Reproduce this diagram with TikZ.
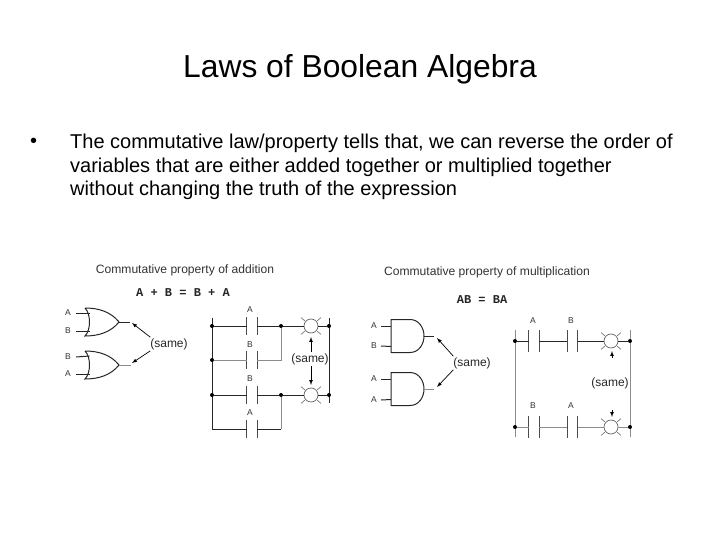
\documentclass[tikz,border=0pt]{standalone}
\usepackage{fontspec}
\setmainfont{Liberation Sans}
\newfontfamily\formulafont{Liberation Mono}
\usepackage{tikz}
\usetikzlibrary{calc}
\tikzset{
	wire/.style={line width=1pt, color=black!85},
	fadedwire/.style={line width=0.8pt, color=black!45},
	plate/.style={line width=0.9pt, color=black!70},
	contactgap/.style={minimum width=10pt, minimum height=17pt, inner sep=0pt},
	tallgap/.style={minimum width=10pt, minimum height=21pt, inner sep=0pt},
	lamp/.style={circle, draw, line width=0.7pt, color=black!60, minimum size=14pt, inner sep=0pt},
	junction/.style={circle, fill=black, minimum size=4pt, inner sep=0pt},
	smalllabel/.style={font=\fontsize{8.5}{8.5}\selectfont, color=black!80, inner sep=1pt},
	samelabel/.style={font=\fontsize{12}{12}\selectfont, color=black!85, inner sep=1pt},
	captionlabel/.style={font=\fontsize{12.1}{12.1}\selectfont, color=black!80, inner sep=0pt},
	formulalabel/.style={font=\formulafont\bfseries\fontsize{12}{12}\selectfont, color=black!85, inner sep=0pt},
	bodyline/.style={font=\fontsize{20}{20}\selectfont, anchor=west, inner sep=0pt},
	samearrow/.style={line width=0.7pt, -latex}
}
\def\orgate#1(#2,#3){
	\begin{scope}[shift={(#2,#3)}]
		\coordinate (#1a) at (4.5,-9);
		\coordinate (#1b) at (4.5,9);
		\coordinate (#1out) at (34,0);
		\draw[wire] (0,-14) .. controls (6,-8) and (6,8) .. (0,14) .. controls (14,14) and (26,10) .. (34,0) .. controls (26,-10) and (14,-14) .. (0,-14);
	\end{scope}
}
\def\andgate#1(#2,#3){
	\begin{scope}[shift={(#2,#3)}]
		\coordinate (#1a) at (0,-10);
		\coordinate (#1b) at (0,10.5);
		\coordinate (#1out) at (33,0);
		\draw[wire] (19,-16.5) -- (0,-16.5) -- (0,16.5) -- (19,16.5) .. controls (28,16.5) and (33,8) .. (33,0) .. controls (33,-8) and (28,-16.5) .. (19,-16.5);
	\end{scope}
}
\def\contactplates#1{
	\draw[plate] (#1.north west) -- (#1.south west);
	\draw[plate] (#1.north east) -- (#1.south east);
}
\def\lamprays#1{
	\foreach \ang in {40,140,220,320} {
		\draw[line width=0.6pt, color=black!60] ($(#1)+(\ang:8)$) -- ($(#1)+(\ang:13)$);
	}
}

\begin{document}
\begin{tikzpicture}[x=1pt, y=-1pt]
	\useasboundingbox (0,0) rectangle (720,540);
	%%%%% TEXT %%%%%
	\node[font=\fontsize{31.8}{32}\selectfont, inner sep=0pt] (title) at (360,69) {Laws of Boolean Algebra};
	\node[bodyline] (bullet) at (30,143) {•};
	\node[bodyline] (lineone) at (70,143) {The commutative law/property tells that, we can reverse the order of};
	\node[bodyline] (linetwo) at (70,167) {variables that are either added together or multiplied together};
	\node[bodyline] (linethree) at (70,190) {without changing the truth of the expression};
	
	%%%%% OR GATES %%%%%
	\node[captionlabel] (addcaption) at (185,270) {Commutative property of addition};
	\node[formulalabel] (addformula) at (183,293) {A + B = B + A};
	\orgate{ortop}(85,322)
	\orgate{orlow}(85,365)
	\node[smalllabel] (ortopA) at (68,313) {A};
	\node[smalllabel] (ortopB) at (68,331) {B};
	\node[smalllabel] (orlowB) at (68,357) {B};
	\node[smalllabel] (orlowA) at (68,374) {A};
	\draw[wire] (ortopA) ++(8,0) -- (ortopa);
	\draw[wire] (ortopB) ++(8,0) -- (ortopb);
	\draw[wire] (orlowB) ++(8,0) -- (orlowa);
	\draw[wire] (orlowA) ++(8,0) -- (orlowb);
	\coordinate (ortopend) at (130,322);
	\coordinate (orlowend) at (131,365);
	\draw[wire] (ortopout) -- (ortopend);
	\draw[fadedwire] (orlowout) -- (orlowend);
	\node[samelabel] (sameor) at (169,344) {(same)};
	\coordinate (ortoptip) at (132,323);
	\coordinate (orlowtip) at (132,363);
	\draw[samearrow] (sameor.160) -- (ortoptip);
	\draw[samearrow] (sameor.200) -- (orlowtip);
	
	%%%%% LEFT LADDER %%%%%
	\coordinate (railAtop) at (212,318);
	\coordinate (railAlow) at (212,429);
	\coordinate (railBtop) at (329,318);
	\coordinate (railBlow) at (329,403);
	\draw[wire] (railAtop) -- (railAlow);
	\draw[wire] (railBtop) -- (railBlow);
	\node[junction] (leftone) at (212,326) {};
	\node[junction] (lefttwo) at (212,360) {};
	\node[junction] (leftthree) at (212,395) {};
	\node[junction] (rightone) at (329,326) {};
	\node[junction] (rightthree) at (329,395) {};
	\node[junction] (branchone) at (281,326) {};
	\node[junction] (branchthree) at (281,395) {};
	\coordinate (leftfour) at (212,429);
	\coordinate (cornertwo) at (281,360);
	\coordinate (cornerfour) at (281,429);
	\node[contactgap] (cA) at (252,326) {};
	\node[contactgap] (cB) at (252,360) {};
	\node[contactgap] (cC) at (252,395) {};
	\node[contactgap] (cD) at (252,429) {};
	\foreach \cname in {cA,cB,cC,cD} {
		\contactplates{\cname}
	}
	\node[smalllabel] (labA) at (250,310) {A};
	\node[smalllabel] (labB) at (250,345) {B};
	\node[smalllabel] (labC) at (250,379) {B};
	\node[smalllabel] (labD) at (250,413) {A};
	\node[lamp] (lampone) at (311,326) {};
	\node[lamp] (lamptwo) at (311,395) {};
	\lamprays{lampone}
	\lamprays{lamptwo}
	\draw[wire] (leftone) -- (cA.west);
	\draw[wire] (cA.east) -- (branchone) -- (lampone);
	\draw[wire] (lampone) -- (rightone);
	\draw[fadedwire] (lefttwo) -- (cB.west);
	\draw[fadedwire] (cB.east) -- (cornertwo) -- (branchone);
	\draw[wire] (leftthree) -- (cC.west);
	\draw[wire] (cC.east) -- (branchthree) -- (lamptwo);
	\draw[wire] (lamptwo) -- (rightthree);
	\draw[wire] (leftfour) -- (cD.west);
	\draw[wire] (cD.east) -- (cornerfour);
	\draw[fadedwire] (cornerfour) -- (branchthree);
	\node[samelabel] (sameladder) at (310,359) {(same)};
	\coordinate (laddertop) at (311,337);
	\coordinate (ladderlow) at (311,385);
	\draw[samearrow] (sameladder.north -| laddertop) -- (laddertop);
	\draw[samearrow] (sameladder.south -| ladderlow) -- (ladderlow);
	
	%%%%% AND GATES %%%%%
	\node[captionlabel] (mulcaption) at (487,272) {Commutative property of multiplication};
	\node[formulalabel] (mulformula) at (482,300) {AB = BA};
	\andgate{andtop}(391,336)
	\andgate{andlow}(391,389)
	\node[smalllabel] (andtopA) at (374,326) {A};
	\node[smalllabel] (andtopB) at (374,346) {B};
	\node[smalllabel] (andlowA) at (374,379) {A};
	\node[smalllabel] (andlowB) at (374,400) {A};
	\draw[wire] (andtopA) ++(7,0) -- (andtopa);
	\draw[wire] (andtopB) ++(7,0) -- (andtopb);
	\draw[wire] (andlowA) ++(7,0) -- (andlowa);
	\draw[wire] (andlowB) ++(7,0) -- (andlowb);
	\coordinate (andtopend) at (434,336);
	\coordinate (andlowend) at (434,389);
	\draw[wire] (andtopout) -- (andtopend);
	\draw[fadedwire] (andlowout) -- (andlowend);
	\node[samelabel] (sameand) at (472,363) {(same)};
	\coordinate (andtoptip) at (437,338);
	\coordinate (andlowtip) at (437,387);
	\draw[samearrow] (sameand.160) -- (andtoptip);
	\draw[samearrow] (sameand.200) -- (andlowtip);
	
	%%%%% RIGHT LADDER %%%%%
	\coordinate (railCtop) at (515,330);
	\coordinate (railClow) at (515,437);
	\coordinate (railDtop) at (630,330);
	\coordinate (railDlow) at (630,437);
	\draw[fadedwire] (railCtop) -- (railClow);
	\draw[fadedwire] (railDtop) -- (railDlow);
	\node[junction] (leftup) at (515,341) {};
	\node[junction] (leftdown) at (515,427) {};
	\node[junction] (rightup) at (630,341) {};
	\node[junction] (rightdown) at (630,427) {};
	\node[tallgap] (cE) at (534,341) {};
	\node[tallgap] (cF) at (572.5,341) {};
	\node[tallgap] (cG) at (534,427) {};
	\node[tallgap] (cH) at (572.5,427) {};
	\foreach \cname in {cE,cF,cG,cH} {
		\contactplates{\cname}
	}
	\node[smalllabel] (labE) at (533,321) {A};
	\node[smalllabel] (labF) at (571,321) {B};
	\node[smalllabel] (labG) at (533,406) {B};
	\node[smalllabel] (labH) at (571,406) {A};
	\node[lamp] (lampthree) at (611,341) {};
	\node[lamp] (lampfour) at (611,427) {};
	\lamprays{lampthree}
	\lamprays{lampfour}
	\draw[wire] (leftup) -- (cE.west);
	\draw[wire] (cE.east) -- (cF.west);
	\draw[wire] (cF.east) -- (lampthree);
	\draw[wire] (lampthree) -- (rightup);
	\draw[fadedwire] (leftdown) -- (cG.west);
	\draw[fadedwire] (cG.east) -- (cH.west);
	\draw[fadedwire] (cH.east) -- (lampfour);
	\draw[fadedwire] (lampfour) -- (rightdown);
	\node[samelabel] (sameright) at (610,383) {(same)};
	\coordinate (stubupfrom) at (612,358);
	\coordinate (stubupto) at (612,351);
	\coordinate (stubdownfrom) at (612,410);
	\coordinate (stubdownto) at (612,417);
	\draw[samearrow] (stubupfrom) -- (stubupto);
	\draw[samearrow] (stubdownfrom) -- (stubdownto);
\end{tikzpicture}
\end{document}
